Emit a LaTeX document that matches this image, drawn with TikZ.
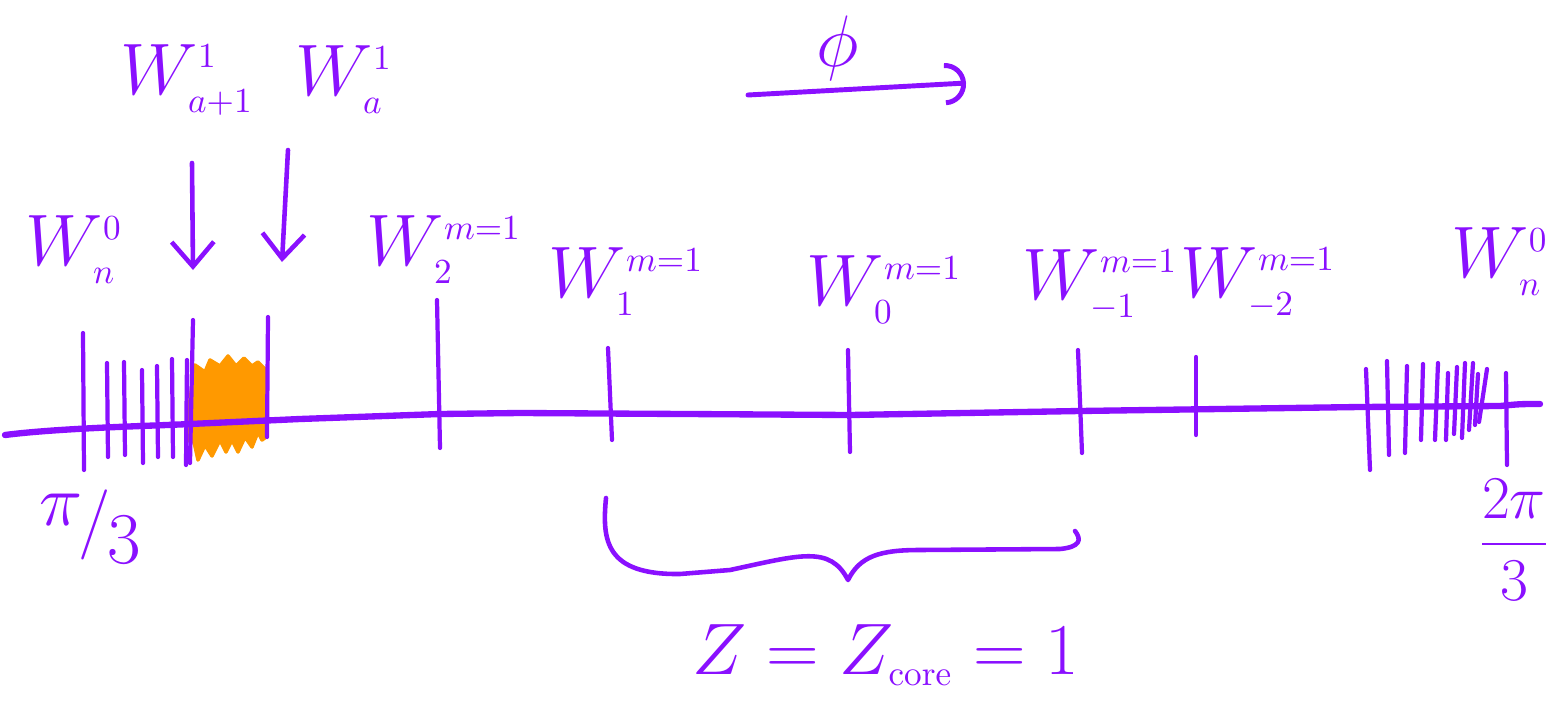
\documentclass[tikz,border=0pt]{standalone}
\usetikzlibrary{arrows.meta}
\definecolor{pen}{RGB}{138,16,255}
\definecolor{hl}{RGB}{255,153,0}
\DeclareMathSizes{20}{20}{10}{7}
\begin{document}
\begin{tikzpicture}[x=0.01cm,y=-0.01cm, line cap=round, line join=round,
  ax/.style={draw=pen, line width=1.8pt},
  tk/.style={draw=pen, line width=1.2pt},
  lbl/.style={text=pen, font=\fontsize{20}{24}\selectfont, inner sep=0pt},
  harrow/.style={draw=pen, line width=1.3pt, -{Straight Barb[length=7pt,width=12pt]}},
  parrow/.style={draw=pen, line width=1.4pt, -{Arc Barb[length=6pt,width=12pt]}},
  brace/.style={draw=pen, line width=1.3pt}]
\useasboundingbox (0,0) rectangle (1551,709);

% orange highlighted band
\fill[hl, draw=hl, line width=1pt] (186,440) -- (190,400) -- (195,365) -- (205,372) -- (210,360) -- (220,366) -- (228,356) -- (236,366) -- (244,358) -- (252,366) -- (258,362) -- (266,370) -- (266,437) -- (262,440) -- (258,432) -- (252,447) -- (245,437) -- (238,452) -- (232,440) -- (226,452) -- (220,440) -- (212,456) -- (205,445) -- (198,460) -- (194,442) -- cycle;

% axis
\draw[ax] (5,435) .. controls (60,428) and (150,426) .. (190,424) -- (300,419) -- (440,414) -- (520,413) -- (850,415) -- (1080,411) -- (1360,407) -- (1500,406) .. controls (1520,404) .. (1540,404);

% left cluster of ticks
\foreach \xa/\ya/\xb/\yb in {83/333/84/470, 107/363/108/457, 124/362/125/455, 142/370/143/463,
  157/366/158/457, 172/359/173/457, 187/360/186/465, 193/320/190/463, 268/317/267/437, 437/300/440/448}
  \draw[tk] (\xa,\ya) -- (\xb,\yb);
% middle ticks
\foreach \xa/\ya/\xb/\yb in {608/348/612/440, 848/350/850/452, 1078/350/1082/453, 1196/357/1196/435}
  \draw[tk] (\xa,\ya) -- (\xb,\yb);
% right cluster of ticks
\foreach \xa/\ya/\xb/\yb in {1366/369/1370/470, 1387/361/1389/455, 1407/366/1405/453, 1423/364/1421/440,
  1438/363/1435/440, 1448/373/1446/440, 1457/367/1454/434, 1465/363/1462/438, 1473/363/1469/430,
  1478/374/1475/425, 1487/369/1479/422, 1506/373/1507/465}
  \draw[tk] (\xa,\ya) -- (\xb,\yb);

% labels
\node[lbl, anchor=west] (wnl) at (25,250) {$W^{0}_{n}$};
\node[lbl, anchor=west] (wa1) at (120,80) {$W^{1}_{a+1}$};
\node[lbl, anchor=west] (wa) at (295,80) {$W^{1}_{a}$};
\node[lbl, anchor=west] (w2) at (366,250) {$W^{m=1}_{2}$};
\node[lbl, anchor=west] (w1) at (548,282) {$W^{m=1}_{1}$};
\node[lbl, anchor=west] (w0) at (806,290) {$W^{m=1}_{0}$};
\node[lbl, anchor=west] (wm1) at (1022,285) {$W^{m=1}_{-1}$};
\node[lbl, anchor=west] (wm2) at (1180,283) {$W^{m=1}_{-2}$};
\node[lbl, anchor=east] (wnr) at (1549,262) {$W^{0}_{n}$};
\node[lbl] (pi3) at (90,527) {\raisebox{5pt}{$\pi$}\kern-1pt/\kern-1pt\raisebox{-6pt}{$3$}};
\node[lbl, font=\fontsize{17}{20}\selectfont] (tpi3) at (1514,540) {$\displaystyle\frac{2\pi}{3}$};
\node[lbl] (phi) at (838,48) {$\phi$};
\node[lbl] (zz) at (886,655) {$Z = Z_{\mathrm{core}} = 1$};

% arrows to highlighted band
\coordinate (a1s) at (192,163);
\coordinate (a1e) at (193,270);
\coordinate (a2s) at (288,150);
\coordinate (a2e) at (282,262);
\draw[harrow] (a1s) -- (a1e);
\draw[harrow] (a2s) -- (a2e);

% phi direction arrow
\coordinate (ps) at (748,95);
\coordinate (pe) at (966,83);
\draw[parrow] (ps) -- (pe);

% brace under core
\draw[brace] (606,498) .. controls (602,540) and (605,575) .. (680,574)
  -- (730,570) .. controls (800,555) and (830,545) .. (848,580)
  .. controls (860,556) and (880,550) .. (920,550) -- (1060,549)
  .. controls (1080,547) and (1082,540) .. (1075,531);
\end{tikzpicture}
\end{document}
